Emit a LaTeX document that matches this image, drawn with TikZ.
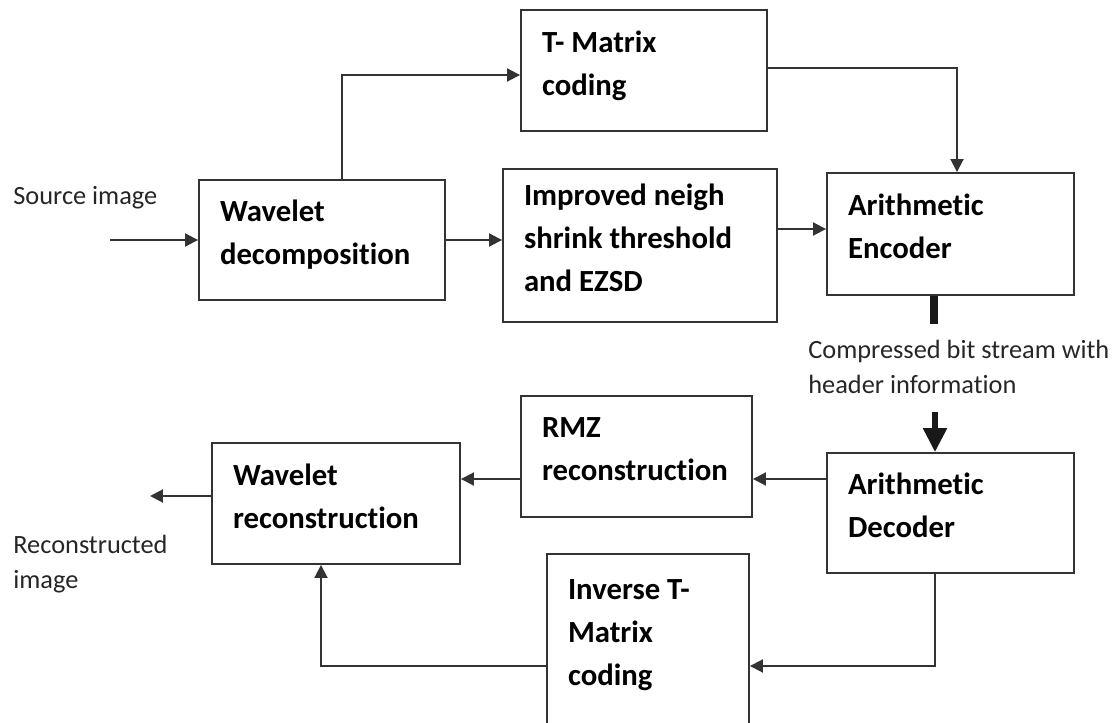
\documentclass[tikz,border=0pt]{standalone}
\usepackage{fontspec}
\setmainfont{Carlito}[Ligatures=NoCommon]
\usetikzlibrary{arrows.meta,calc}
\tikzset{
  block/.style={draw=black!80, line width=1.1pt, align=left, fill=white,
    inner xsep=0.42cm, inner ysep=0pt,
    font=\fontsize{17.5}{24.5}\selectfont\bfseries,
    execute at begin node={\spaceskip=0pt\xspaceskip=0pt\relax},
    execute at end node={\rule[-0.31cm]{0pt}{0pt}}},
  arr/.style={-{Triangle[length=2.6mm,width=2.6mm]}, draw=black!80, line width=1.1pt},
  lbl/.style={font=\fontsize{15}{20}\selectfont, align=left, inner sep=0pt, text=black!85},
  bar/.style={draw=black!90, line width=0.16cm},
  bigarr/.style={-{Triangle[length=4.8mm,width=4.6mm]}, draw=black!90, line width=0.11cm}
}

\begin{document}
\begin{tikzpicture}[x=0.02cm, y=-0.02cm]
  \useasboundingbox (0,0) rectangle (1116,723);
  \fill[white] (0,0) rectangle (1116,723);
  \clip (0,0) rectangle (1116,723);

  % encoder side
  \node[block, minimum width=4.92cm, text width=4.08cm, minimum height=2.42cm] (tmx) at (644,70.5) {T- Matrix\\coding};
  \node[block, minimum width=4.92cm, text width=4.08cm, minimum height=2.40cm] (wdec) at (322,240) {Wavelet\\decomposition};
  \node[block, minimum width=5.48cm, text width=4.64cm, minimum height=3.06cm] (ins) at (640,245.5) {Improved neigh\\shrink threshold\\and EZSD};
  \node[block, minimum width=4.94cm, text width=4.10cm, minimum height=2.44cm] (aenc) at (950.5,234) {Arithmetic\\Encoder};

  % decoder side
  \node[block, minimum width=4.94cm, text width=4.10cm, minimum height=2.40cm] (adec) at (950.5,513) {Arithmetic\\Decoder};
  \node[block, minimum width=4.62cm, text width=3.78cm, minimum height=2.42cm] (rmz) at (636.5,456.5) {RMZ\\reconstruction};
  \node[block, minimum width=4.96cm, text width=4.12cm, minimum height=2.42cm] (wrec) at (336,503.5) {Wavelet\\reconstruction};
  \node[block, minimum width=4.04cm, text width=3.20cm, minimum height=3.46cm] (itmx) at (648,640.5) {Inverse T-\\Matrix\\coding};

  \node[lbl, anchor=west] (src) at (13,198) {Source image};
  \node[lbl, anchor=west] (cbs) at (808,367) {Compressed bit stream with\\header information};
  \node[lbl, anchor=west] (rec) at (13,564) {Reconstructed\\image};

  \coordinate (srcin) at (110,240);
  \coordinate (recout) at (150,496);
  \coordinate (cbin) at (935,412);

  \draw[arr] (srcin) -- (wdec.west);
  \draw[arr] ($(wdec.north)+(20,0)$) |- ($(tmx.west)+(0,4.5)$);
  \draw[arr] ($(tmx.east)+(0,-2.5)$) -| ($(aenc.north)+(6.5,0)$);
  \draw[arr] (wdec.east) -- (wdec.east -| ins.west);
  \draw[arr] ($(ins.east)+(0,-16.5)$) -- ($(aenc.west)+(0,-5)$);

  \draw[bar] ($(aenc.south)+(-16.5,0)$) -- ++(0,28);
  \draw[bigarr] (cbin) -- ($(adec.north)+(-15.5,0)$);

  \draw[arr] ($(adec.west)+(0,-34)$) -- ($(rmz.east)+(0,22.5)$);
  \draw[arr] ($(rmz.west)+(0,22.5)$) -- ($(wrec.east)+(0,-24.5)$);
  \draw[arr] ($(wrec.west)+(0,-7.5)$) -- (recout);
  \draw[arr] ($(adec.south)+(-15.5,0)$) |- ($(itmx.east)+(0,25.5)$);
  \draw[arr] ($(itmx.west)+(0,25.5)$) -| ($(wrec.south)+(-15,0)$);
\end{tikzpicture}
\end{document}
